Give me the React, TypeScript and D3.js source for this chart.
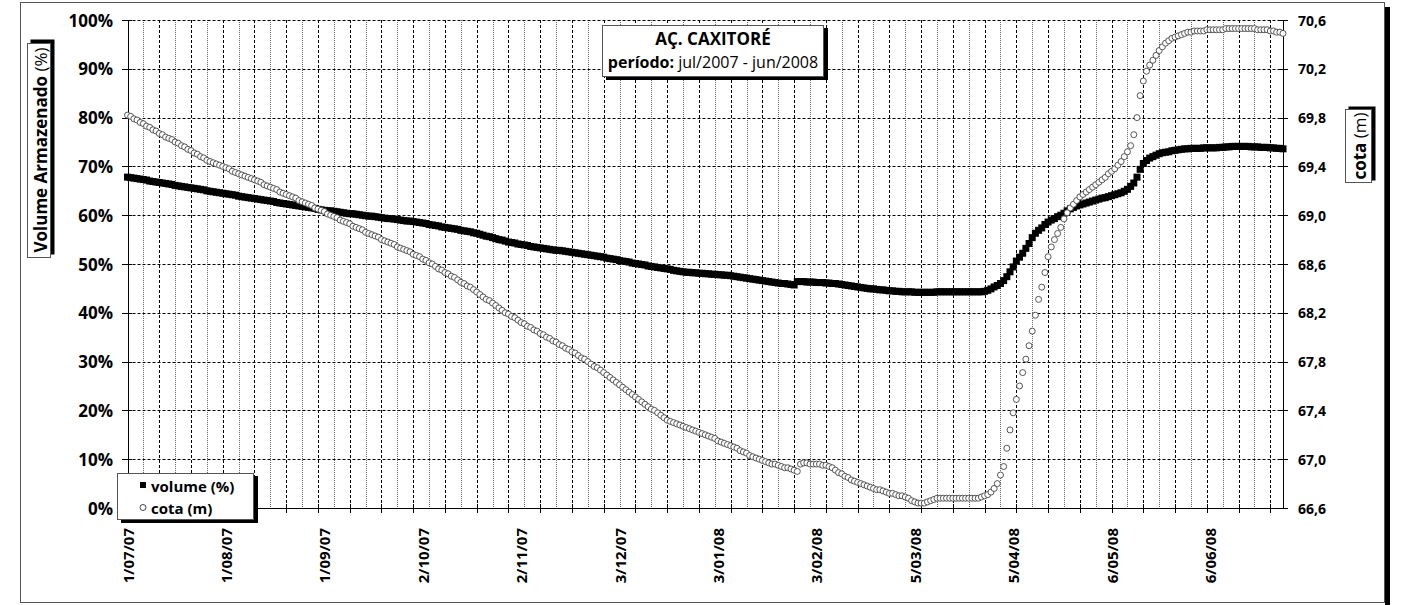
import React from 'react';
import * as d3 from 'd3';

// Daily series, 1/07/2007 .. 29/06/2008 (one value per day)
const volume: number[] = [
  67.8, 67.7, 67.6, 67.5, 67.4, 67.3, 67.2, 67.0, 66.9, 66.8,
  66.7, 66.6, 66.5, 66.4, 66.3, 66.1, 66.0, 65.9, 65.8, 65.7,
  65.6, 65.5, 65.4, 65.3, 65.2, 65.0, 64.9, 64.8, 64.7, 64.6,
  64.5, 64.4, 64.3, 64.2, 64.1, 63.9, 63.8, 63.7, 63.6, 63.5,
  63.4, 63.3, 63.2, 63.1, 63.0, 62.9, 62.8, 62.6, 62.5, 62.4,
  62.3, 62.2, 62.1, 62.0, 61.9, 61.8, 61.7, 61.6, 61.5, 61.4,
  61.2, 61.1, 61.0, 60.9, 60.9, 60.8, 60.7, 60.6, 60.5, 60.4,
  60.3, 60.3, 60.2, 60.1, 60.0, 59.9, 59.8, 59.8, 59.7, 59.6,
  59.5, 59.4, 59.3, 59.3, 59.2, 59.1, 59.0, 58.9, 58.8, 58.8,
  58.7, 58.6, 58.5, 58.4, 58.3, 58.1, 58.0, 57.9, 57.8, 57.6,
  57.5, 57.4, 57.3, 57.2, 57.1, 56.9, 56.8, 56.7, 56.6, 56.4,
  56.3, 56.1, 55.9, 55.7, 55.6, 55.4, 55.2, 55.0, 54.9, 54.7,
  54.5, 54.4, 54.3, 54.1, 54.0, 53.9, 53.8, 53.6, 53.5, 53.4,
  53.3, 53.2, 53.1, 53.0, 52.9, 52.8, 52.8, 52.7, 52.6, 52.5,
  52.4, 52.3, 52.2, 52.1, 52.0, 51.9, 51.8, 51.7, 51.6, 51.5,
  51.4, 51.2, 51.1, 51.0, 50.9, 50.7, 50.6, 50.5, 50.4, 50.2,
  50.1, 50.0, 49.9, 49.8, 49.6, 49.5, 49.4, 49.3, 49.2, 49.1,
  49.0, 48.9, 48.7, 48.6, 48.5, 48.4, 48.3, 48.3, 48.2, 48.2,
  48.1, 48.1, 48.0, 48.0, 47.9, 47.9, 47.8, 47.8, 47.7, 47.7,
  47.6, 47.5, 47.4, 47.3, 47.2, 47.1, 47.0, 46.9, 46.8, 46.7,
  46.6, 46.5, 46.4, 46.3, 46.2, 46.1, 46.0, 46.0, 45.9, 45.8,
  45.7, 46.4, 46.4, 46.4, 46.3, 46.3, 46.3, 46.2, 46.2, 46.2,
  46.1, 46.1, 46.0, 46.0, 45.9, 45.8, 45.7, 45.6, 45.5, 45.4,
  45.3, 45.2, 45.1, 45.0, 44.9, 44.9, 44.8, 44.7, 44.7, 44.6,
  44.5, 44.5, 44.4, 44.4, 44.3, 44.3, 44.3, 44.3, 44.2, 44.2,
  44.2, 44.2, 44.2, 44.2, 44.2, 44.3, 44.3, 44.3, 44.3, 44.3,
  44.3, 44.3, 44.3, 44.3, 44.3, 44.3, 44.3, 44.3, 44.3, 44.3,
  44.4, 44.6, 44.9, 45.3, 45.6, 46.0, 46.6, 47.4, 48.4, 49.4,
  50.6, 51.4, 52.2, 53.2, 54.2, 55.4, 56.3, 56.9, 57.4, 58.1,
  58.6, 59.0, 59.3, 59.7, 60.0, 60.4, 60.9, 61.3, 61.6, 61.9,
  62.1, 62.3, 62.5, 62.7, 62.9, 63.1, 63.3, 63.5, 63.6, 63.8,
  64.0, 64.2, 64.4, 64.6, 64.9, 65.3, 65.9, 66.6, 67.8, 69.4,
  70.6, 71.2, 71.7, 72.0, 72.3, 72.6, 72.8, 72.9, 73.0, 73.2,
  73.3, 73.4, 73.5, 73.6, 73.6, 73.7, 73.7, 73.7, 73.7, 73.8,
  73.8, 73.8, 73.8, 73.8, 73.9, 73.9, 74.0, 74.0, 74.1, 74.1,
  74.1, 74.1, 74.1, 74.1, 74.0, 74.0, 74.0, 73.9, 73.9, 73.9,
  73.8, 73.8, 73.7, 73.7, 73.6,
];

const cota: number[] = [
  69.82, 69.81, 69.79, 69.78, 69.76, 69.75, 69.73, 69.72, 69.70, 69.69,
  69.67, 69.66, 69.64, 69.63, 69.62, 69.60, 69.59, 69.57, 69.56, 69.54,
  69.53, 69.51, 69.50, 69.48, 69.47, 69.45, 69.44, 69.43, 69.42, 69.41,
  69.40, 69.39, 69.38, 69.36, 69.35, 69.34, 69.33, 69.32, 69.31, 69.30,
  69.29, 69.28, 69.27, 69.25, 69.24, 69.23, 69.22, 69.21, 69.19, 69.18,
  69.17, 69.16, 69.15, 69.14, 69.12, 69.11, 69.10, 69.09, 69.08, 69.06,
  69.05, 69.04, 69.03, 69.01, 69.00, 68.99, 68.98, 68.96, 68.95, 68.94,
  68.93, 68.91, 68.90, 68.89, 68.88, 68.86, 68.85, 68.84, 68.83, 68.82,
  68.80, 68.79, 68.78, 68.77, 68.76, 68.74, 68.73, 68.72, 68.71, 68.70,
  68.68, 68.67, 68.66, 68.64, 68.63, 68.61, 68.60, 68.58, 68.56, 68.55,
  68.53, 68.52, 68.50, 68.49, 68.47, 68.45, 68.44, 68.42, 68.41, 68.39,
  68.37, 68.35, 68.33, 68.31, 68.30, 68.28, 68.26, 68.24, 68.22, 68.20,
  68.19, 68.17, 68.16, 68.14, 68.12, 68.11, 68.09, 68.08, 68.06, 68.05,
  68.03, 68.02, 68.00, 67.99, 67.97, 67.96, 67.94, 67.93, 67.91, 67.90,
  67.88, 67.87, 67.85, 67.83, 67.82, 67.80, 67.78, 67.76, 67.75, 67.73,
  67.71, 67.69, 67.67, 67.65, 67.63, 67.61, 67.59, 67.57, 67.55, 67.53,
  67.51, 67.49, 67.47, 67.45, 67.43, 67.41, 67.40, 67.38, 67.36, 67.34,
  67.32, 67.31, 67.30, 67.29, 67.28, 67.27, 67.26, 67.25, 67.24, 67.23,
  67.22, 67.21, 67.20, 67.19, 67.18, 67.17, 67.15, 67.14, 67.13, 67.12,
  67.11, 67.10, 67.09, 67.07, 67.06, 67.05, 67.03, 67.02, 67.01, 67.00,
  66.99, 66.98, 66.97, 66.96, 66.96, 66.95, 66.94, 66.93, 66.93, 66.92,
  66.91, 66.90, 66.96, 66.97, 66.97, 66.96, 66.96, 66.96, 66.96, 66.95,
  66.95, 66.94, 66.93, 66.91, 66.89, 66.88, 66.86, 66.85, 66.83, 66.82,
  66.81, 66.80, 66.79, 66.78, 66.77, 66.76, 66.75, 66.75, 66.74, 66.73,
  66.72, 66.72, 66.71, 66.70, 66.70, 66.69, 66.68, 66.66, 66.65, 66.64,
  66.64, 66.64, 66.65, 66.66, 66.67, 66.68, 66.68, 66.68, 66.68, 66.68,
  66.68, 66.68, 66.68, 66.68, 66.68, 66.68, 66.68, 66.68, 66.68, 66.69,
  66.70, 66.71, 66.73, 66.76, 66.80, 66.87, 66.94, 67.09, 67.24, 67.38,
  67.49, 67.60, 67.71, 67.82, 67.93, 68.05, 68.18, 68.31, 68.41, 68.53,
  68.66, 68.74, 68.80, 68.85, 68.90, 68.97, 69.02, 69.06, 69.09, 69.12,
  69.15, 69.17, 69.19, 69.21, 69.23, 69.25, 69.27, 69.29, 69.31, 69.34,
  69.36, 69.38, 69.41, 69.44, 69.48, 69.52, 69.57, 69.66, 69.80, 69.98,
  70.10, 70.18, 70.23, 70.27, 70.31, 70.35, 70.38, 70.41, 70.43, 70.45,
  70.46, 70.47, 70.48, 70.49, 70.50, 70.50, 70.51, 70.51, 70.51, 70.51,
  70.52, 70.52, 70.52, 70.52, 70.52, 70.52, 70.53, 70.53, 70.53, 70.53,
  70.53, 70.53, 70.53, 70.53, 70.53, 70.53, 70.52, 70.52, 70.52, 70.52,
  70.51, 70.51, 70.50, 70.50, 70.49,
];

const labelDates = [
  '2007-07-01', '2007-08-01', '2007-09-01', '2007-10-02', '2007-11-02', '2007-12-03',
  '2008-01-03', '2008-02-03', '2008-03-05', '2008-04-05', '2008-05-06', '2008-06-06',
];

const volumeTicks = [0, 10, 20, 30, 40, 50, 60, 70, 80, 90, 100];
const cotaTicks = [66.6, 67.0, 67.4, 67.8, 68.2, 68.6, 69.0, 69.4, 69.8, 70.2, 70.6];

const START = new Date(Date.UTC(2007, 6, 1));
const END = new Date(Date.UTC(2008, 5, 29));

const FONT = "'Open Sans', sans-serif";

export default function App() {
  const left = 127.5, right = 1283, top = 20, bottom = 508;

  const x = d3.scaleUtc().domain([START, END]).range([left, right]);
  const yV = d3.scaleLinear().domain([0, 100]).range([bottom, top]);
  const yC = d3.scaleLinear().domain([66.6, 70.6]).range([bottom, top]);

  const day = (i: number) => d3.utcDay.offset(START, i);
  const px = (v: number) => Math.round(v) + 0.5;

  const totalDays = d3.utcDay.count(START, END);
  const gridDays = d3.range(5, totalDays + 1, 5);
  const tickDays = d3.range(10, totalDays + 1, 10);

  const fmtLabel = (s: string) => {
    const d = new Date(s + 'T00:00:00Z');
    return `${d.getUTCDate()}/${d3.utcFormat('%m/%y')(d)}`;
  };
  const fmtCota = (v: number) => v.toFixed(1).replace('.', ',');

  return (
    <svg width={1410} height={605} style={{ position: 'absolute', left: 0, top: 0, background: '#fff' }}
      fontFamily={FONT}>
      {/* chart area */}
      <rect x={1385} y={7} width={5} height={600} fill="#000" />
      <rect x={20.5} y={2.5} width={1364} height={600} fill="#fff" stroke="#555" />

      {/* vertical grid */}
      {gridDays.map(d => {
        const gx = px(x(day(d)));
        const major = d % 10 === 0;
        return (
          <line key={'vg' + d} x1={gx} x2={gx} y1={top} y2={bottom}
            stroke={major ? '#000' : '#666'} strokeWidth={1}
            strokeDasharray={major ? '3,2' : '1,1'} />
        );
      })}
      {/* horizontal grid */}
      {volumeTicks.slice(1).map(v => (
        <line key={'hg' + v} x1={left} x2={right} y1={px(yV(v))} y2={px(yV(v))}
          stroke="#000" strokeDasharray="3,2" />
      ))}

      {/* axes */}
      <line x1={px(left)} x2={px(left)} y1={top} y2={bottom} stroke="#000" />
      <line x1={px(right)} x2={px(right)} y1={top} y2={bottom} stroke="#000" />
      <line x1={left} x2={right + 1} y1={px(bottom)} y2={px(bottom)} stroke="#000" />

      {volumeTicks.map(v => (
        <g key={'lt' + v}>
          <line x1={122} x2={132} y1={px(yV(v))} y2={px(yV(v))} stroke="#000" />
          <text x={113} y={yV(v)} textAnchor="end" dominantBaseline="central"
            fontSize={17} fontWeight="bold">{v}%</text>
        </g>
      ))}
      {cotaTicks.map(v => (
        <g key={'rt' + v}>
          <line x1={1279} x2={1288} y1={px(yC(v))} y2={px(yC(v))} stroke="#000" />
          <text x={1298} y={yC(v)} textAnchor="start" dominantBaseline="central"
            fontSize={14} fontWeight="bold">{fmtCota(v)}</text>
        </g>
      ))}
      {tickDays.map(d => (
        <line key={'xt' + d} x1={px(x(day(d)))} x2={px(x(day(d)))} y1={504} y2={513} stroke="#000" />
      ))}
      {labelDates.map(s => {
        const lx = x(new Date(s + 'T00:00:00Z'));
        return (
          <text key={s} transform={`translate(${lx},528) rotate(-90)`} textAnchor="end"
            dominantBaseline="central" fontSize={15} fontWeight="bold">{fmtLabel(s)}</text>
        );
      })}

      {/* volume series */}
      {volume.map((v, i) => (
        <rect key={'v' + i} x={x(day(i)) - 3.5} y={yV(v) - 3.5} width={7} height={7} fill="#000" />
      ))}
      {/* cota series */}
      {cota.map((c, i) => (
        <circle key={'c' + i} cx={x(day(i))} cy={yC(c)} r={3} fill="#fff" stroke="#444" strokeWidth={0.9} />
      ))}

      {/* title box */}
      <rect x={606} y={28} width={222} height={52} fill="#000" />
      <rect x={602.5} y={25.5} width={221} height={51} fill="#fff" stroke="#555" />
      <text x={713} y={45} textAnchor="middle" fontSize={17} fontWeight="bold">AÇ. CAXITORÉ</text>
      <text x={713} y={68} textAnchor="middle" fontSize={16}>
        <tspan fontWeight="bold">período:</tspan>
        <tspan> jul/2007 - jun/2008</tspan>
      </text>

      {/* legend */}
      <rect x={121} y={476} width={137} height={47} fill="#000" />
      <rect x={117.5} y={473.5} width={136} height={46} fill="#fff" stroke="#555" />
      <rect x={140} y={482} width={6} height={6} fill="#000" />
      <text x={151} y={486} dominantBaseline="central" fontSize={15} fontWeight="bold">volume (%)</text>
      <circle cx={143} cy={507.5} r={3} fill="#fff" stroke="#333" strokeWidth={0.9} />
      <text x={151} y={508} dominantBaseline="central" fontSize={15} fontWeight="bold">cota (m)</text>

      {/* left axis title */}
      <rect x={30.5} y={39.5} width={24} height={215} fill="#000" />
      <rect x={27.5} y={43.5} width={23} height={214} fill="#fff" stroke="#555" />
      <text transform="translate(39.5,150) rotate(-90)" textAnchor="middle" dominantBaseline="central" fontSize={17}>
        <tspan fontWeight="bold">Volume Armazenado</tspan>
        <tspan> (%)</tspan>
      </text>

      {/* right axis title */}
      <rect x={1348.5} y={106.5} width={27} height={74} fill="#000" />
      <rect x={1345.5} y={109.5} width={26} height={73} fill="#fff" stroke="#555" />
      <text transform="translate(1358.5,146) rotate(-90)" textAnchor="middle" dominantBaseline="central" fontSize={17}>
        <tspan fontWeight="bold">cota</tspan>
        <tspan> (m)</tspan>
      </text>
    </svg>
  );
}
